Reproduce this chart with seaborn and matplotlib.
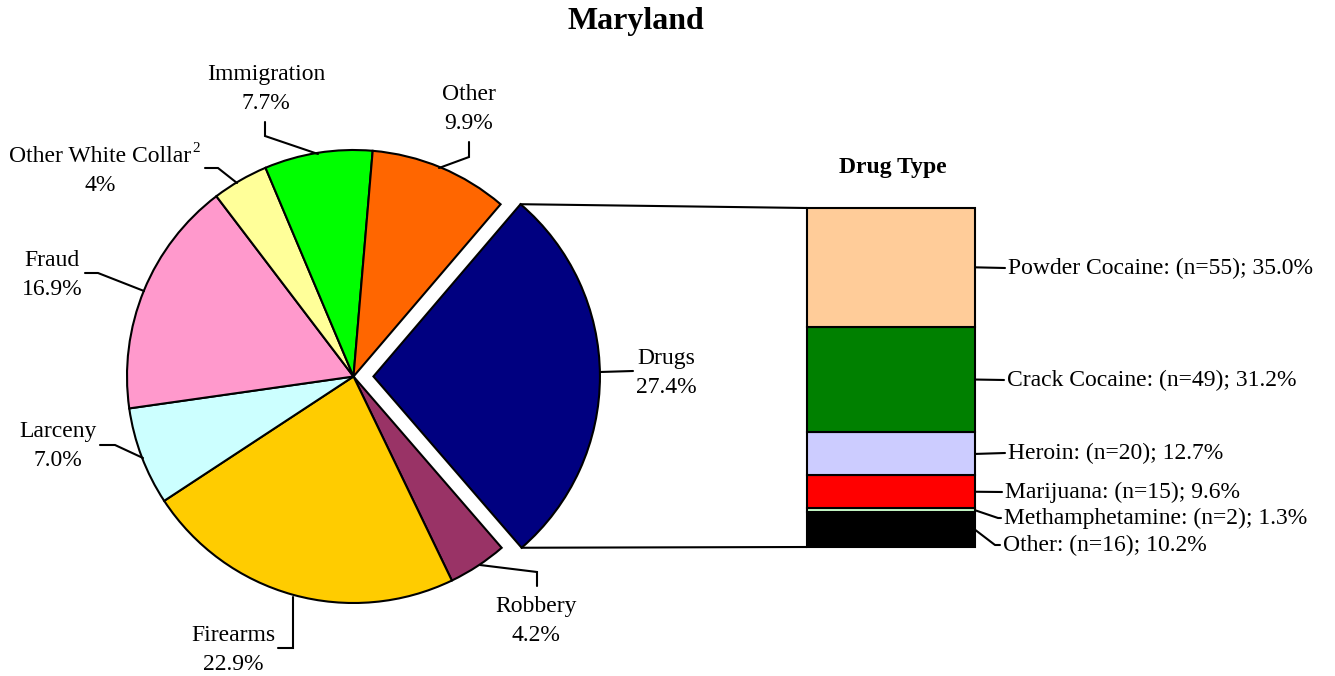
import math
import matplotlib
matplotlib.use("Agg")
import matplotlib.pyplot as plt
from matplotlib.patches import ConnectionPatch
import seaborn as sns

W, H = 1335, 676

# offense mix (pie), clockwise from the exploded Drugs slice
offense = ["Drugs", "Robbery", "Firearms", "Larceny", "Fraud",
           "Other White Collar", "Immigration", "Other"]
offense_pct = [27.4, 4.2, 22.9, 7.0, 16.9, 4.0, 7.7, 9.9]
offense_txt = ["27.4%", "4.2%", "22.9%", "7.0%", "16.9%", "4%", "7.7%", "9.9%"]
offense_colors = ["#000080", "#993366", "#FFCC00", "#CCFFFF", "#FF99CC",
                  "#FFFF99", "#00FF00", "#FF6600"]

# drug type breakdown (stacked bar, top to bottom)
drug = ["Powder Cocaine", "Crack Cocaine", "Heroin", "Marijuana",
        "Methamphetamine", "Other"]
drug_n = [55, 49, 20, 15, 2, 16]
drug_pct = [35.0, 31.2, 12.7, 9.6, 1.3, 10.2]
drug_colors = ["#FFCC99", "#008000", "#CCCCFF", "#FF0000", "#CCFFCC", "#000000"]

sns.set_theme(style="white")
plt.rcParams["font.family"] = ["Liberation Serif", "DejaVu Serif"]
plt.rcParams["text.color"] = "black"
FS = 17

fig = plt.figure(figsize=(W / 100, H / 100), dpi=100)

# pie axes, unit radius, laid out in pixel space
CX, CY, R = 353.5, 376.5, 226.5


def pt(x, y):
    return (x - CX) / R, (CY - y) / R


ax = fig.add_axes([0, 0, 1, 1])
explode = [0.088 if o == "Drugs" else 0 for o in offense]
wedges, _ = ax.pie(offense_pct, colors=offense_colors, startangle=49.5,
                   counterclock=False, explode=explode, radius=1,
                   wedgeprops=dict(edgecolor="black", linewidth=1.5))
ax.set_xlim(-CX / R, (W - CX) / R)
ax.set_ylim(-(H - CY) / R, CY / R)
ax.set_aspect("auto")
ax.axis("off")

# label text positions and leader paths (pixels)
label_pos = {
    "Drugs": (666, 373),
    "Robbery": (536, 621),
    "Firearms": (233, 650),
    "Larceny": (58, 446),
    "Fraud": (52, 275),
    "Other White Collar": (100, 171),
    "Immigration": (266, 89),
    "Other": (469, 109),
}
leaders = {
    "Drugs": [(600, 372), (633, 371)],
    "Robbery": [(480, 565), (537, 572), (537, 586)],
    "Firearms": [(278, 648), (293, 648), (293, 597)],
    "Larceny": [(100, 445), (115, 445), (143, 458)],
    "Fraud": [(85, 273), (98, 273), (144, 291)],
    "Other White Collar": [(205, 168), (218, 168), (237, 183)],
    "Immigration": [(265, 122), (265, 136), (318, 154)],
    "Other": [(469, 142), (469, 157), (439, 168)],
}
for name, txt in zip(offense, offense_txt):
    x, y = pt(*label_pos[name])
    ax.text(x, y, f"{name}\n{txt}", ha="center", va="center",
            fontsize=FS, linespacing=1.45)
    xs, ys = zip(*[pt(px, py) for px, py in leaders[name]])
    ax.plot(xs, ys, color="black", lw=1.5, solid_joinstyle="miter")
sx, sy = pt(196, 148)
ax.text(sx, sy, "2", ha="center", va="center", fontsize=11)

# stacked bar of drug types
bx = fig.add_axes([807 / W, (H - 547) / H, 168 / W, 339 / H])
bottom = 0
mids = {}
for name, pct, c in reversed(list(zip(drug, drug_pct, drug_colors))):
    bx.bar(0, pct, bottom=bottom, width=1, color=c, edgecolor="black",
           linewidth=1.5, clip_on=False)
    mids[name] = bottom + pct / 2
    bottom += pct
bx.set_xlim(-0.5, 0.5)
bx.set_ylim(0, 100)
bx.axis("off")

# lines joining the drugs slice to the bar
w = wedges[0]
cx, cy = w.center
for ang, yb in ((max(w.theta1, w.theta2), 100), (min(w.theta1, w.theta2), 0)):
    p = (cx + w.r * math.cos(math.radians(ang)),
         cy + w.r * math.sin(math.radians(ang)))
    con = ConnectionPatch(xyA=p, coordsA=ax.transData, xyB=(-0.5, yb),
                          coordsB=bx.transData, color="black", lw=1.5)
    fig.add_artist(con)

# bar labels
bar_lbl = {
    "Powder Cocaine": (1008, 268, None),
    "Crack Cocaine": (1007, 380, None),
    "Heroin": (1008, 453, None),
    "Marijuana": (1005, 492, None),
    "Methamphetamine": (1004, 518, 998),
    "Other": (1003, 545, 995),
}
inv = ax.transData.inverted()
for name, n, pct in zip(drug, drug_n, drug_pct):
    tx, ty, bend = bar_lbl[name]
    start = inv.transform(bx.transData.transform((0.5, mids[name])))
    pts = [tuple(start)]
    if bend is not None:
        pts.append(pt(bend, ty))
    pts.append(pt(tx - 3, ty))
    xs, ys = zip(*pts)
    ax.plot(xs, ys, color="black", lw=1.5)
    x, y = pt(tx, ty)
    ax.text(x, y, f"{name}: (n={n}); {pct:.1f}%", ha="left", va="center",
            fontsize=FS)

x, y = pt(893, 167)
ax.text(x, y, "Drug Type", ha="center", va="center", fontsize=17,
        fontweight="bold")
x, y = pt(636, 22)
ax.text(x, y, "Maryland", ha="center", va="center", fontsize=23,
        fontweight="bold")

fig.savefig("out.png", dpi=100)
